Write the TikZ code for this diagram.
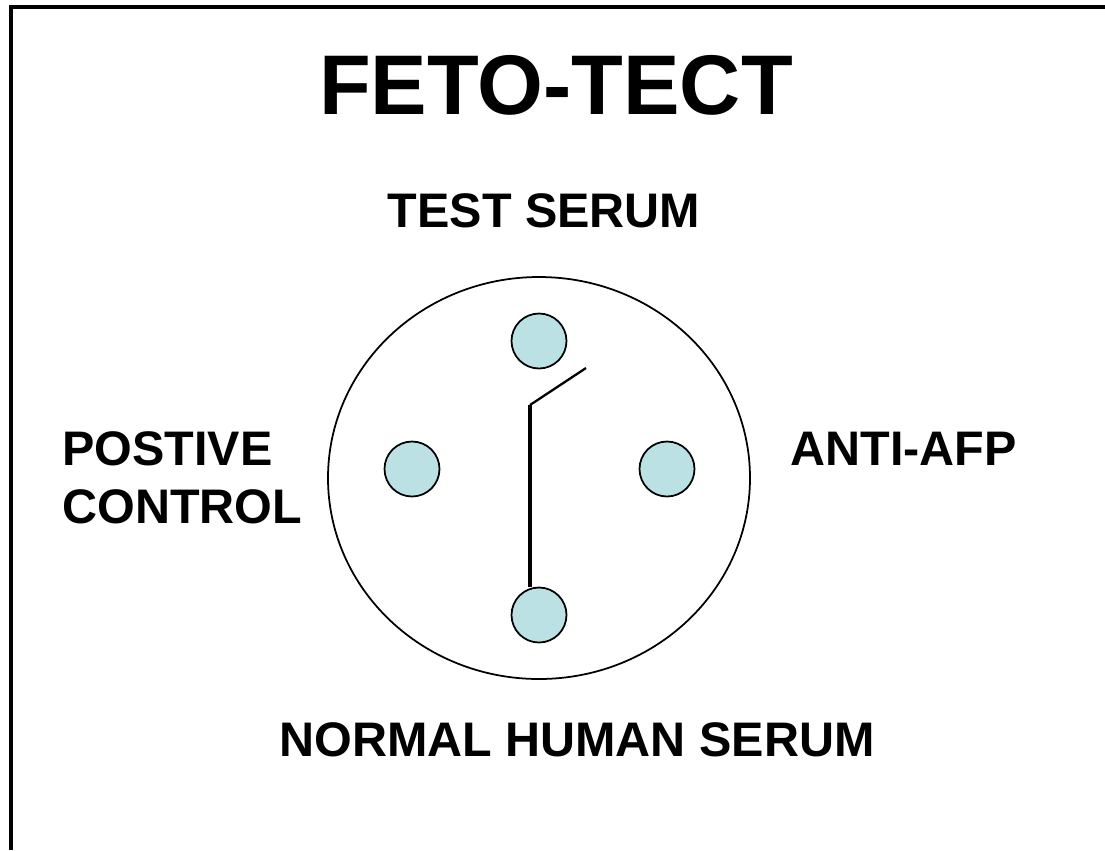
\documentclass[tikz,border=0pt]{standalone}
\usepackage{fontspec}
\setmainfont{Liberation Sans}
\usepackage{tikz}
\usepackage{xcolor}
\definecolor{wellblue}{HTML}{BCE1E4}

\tikzset{
  well/.style={circle, draw, line width=1pt, fill=wellblue, minimum size=1.1cm, inner sep=0pt},
  label/.style={font=\bfseries\fontsize{27.6}{32.5}\selectfont, inner sep=0pt, anchor=base}
}

\begin{document}
\begin{tikzpicture}[x=0.02cm, y=-0.02cm]
  \useasboundingbox (0,0) rectangle (1105,850);
  \draw[line width=1.9pt] (11,850) -- (11,7) -- (1105,7);

  % title and labels
  \node[label, font=\bfseries\fontsize{48.2}{57}\selectfont] (title) at (556,114) {FETO-TECT};
  \node[label] (test) at (544,227) {TEST SERUM};
  \node[label, anchor=base west, align=left] (pos) at (62,523) {POSTIVE\\CONTROL};
  \node[label, anchor=base west] (afp) at (790,465) {ANTI-AFP};
  \node[label] (norm) at (577,756) {NORMAL HUMAN SERUM};

  % plate
  \draw[line width=1pt] (539,478) ellipse [x radius=211, y radius=201];
  \node[well] (testwell) at (539,341) {};
  \node[well] (poswell) at (412,469) {};
  \node[well] (afpwell) at (667,469) {};
  \node[well] (normwell) at (539,615) {};

  % precipitin line
  \coordinate (tip) at (586,368);
  \coordinate (bend) at (530,405);
  \draw[line width=1.3pt] (tip) -- (bend);
  \draw[line width=2pt] (bend) -- (bend |- normwell.north);
\end{tikzpicture}
\end{document}
